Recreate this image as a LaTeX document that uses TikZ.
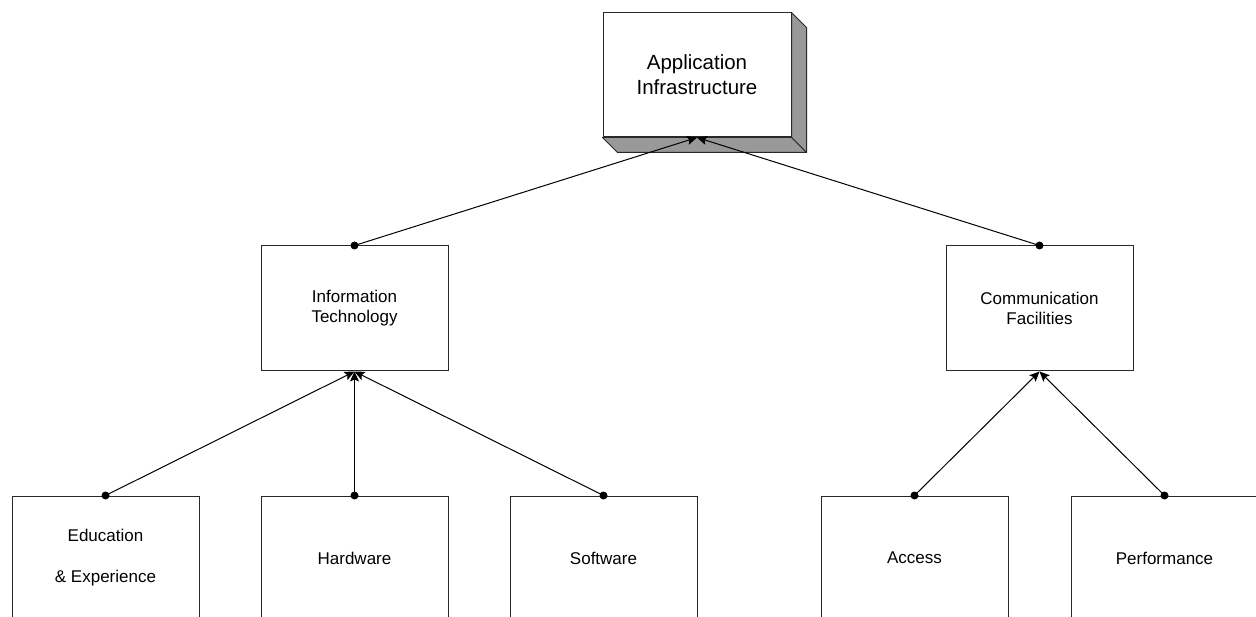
\documentclass[tikz,border=0pt]{standalone}
\usepackage{fontspec}
\setmainfont{Liberation Sans}
\usetikzlibrary{arrows.meta,calc}
\definecolor{shade}{RGB}{153,153,153}
\definecolor{edge}{RGB}{40,40,40}
\begin{document}
\begin{tikzpicture}[x=1pt,y=-1pt,
  box/.style={draw=edge,line width=1pt,fill=white,minimum width=187pt,align=center,inner sep=0pt,font=\fontsize{17}{20}\selectfont},
  midbox/.style={box,minimum height=125pt},
  leafbox/.style={box,minimum height=124pt},
  topbox/.style={box,minimum width=188pt,minimum height=124pt,font=\fontsize{20.5}{25}\selectfont},
  conn/.style={line width=1pt,-{Stealth[length=10pt,width=9pt,inset=2pt]}},
  side/.style={fill=shade,draw=edge,line width=1pt,line join=round}
]
\useasboundingbox (0,0) rectangle (1256,617);

\node[topbox] (app) at (697,75) {Application\\Infrastructure};
\filldraw[side] (app.north east) -- ++(15,15) -- ($(app.south east)+(15,15)$) -- (app.south east) -- cycle;
\filldraw[side] (app.south west) -- ++(15,15) -- ($(app.south east)+(15,15)$) -- (app.south east) -- cycle;

\node[midbox] (it) at (354.5,308.5) {Information\\Technology};
\node[midbox] (cf) at (1039.5,308.5) {Communication\\Facilities};

\node[leafbox] (edu) at (105.5,558) {Education\\[21pt]\& Experience};
\node[leafbox] (hw) at (354.5,558) {Hardware};
\node[leafbox] (sw) at (603.5,558) {Software};
\node[leafbox] (acc) at (914.5,558) {Access};
\node[leafbox] (perf) at (1164.5,558) {Performance};

\draw[conn] (it.north) -- (app.south);
\draw[conn] (cf.north) -- (app.south);
\draw[conn] (edu.north) -- (it.south);
\draw[conn] (hw.north) -- (it.south);
\draw[conn] (sw.north) -- (it.south);
\draw[conn] (acc.north) -- (cf.south);
\draw[conn] (perf.north) -- (cf.south);

\foreach \n in {it,cf,edu,hw,sw,acc,perf}
  \fill (\n.north) circle (4pt);
\end{tikzpicture}
\end{document}
